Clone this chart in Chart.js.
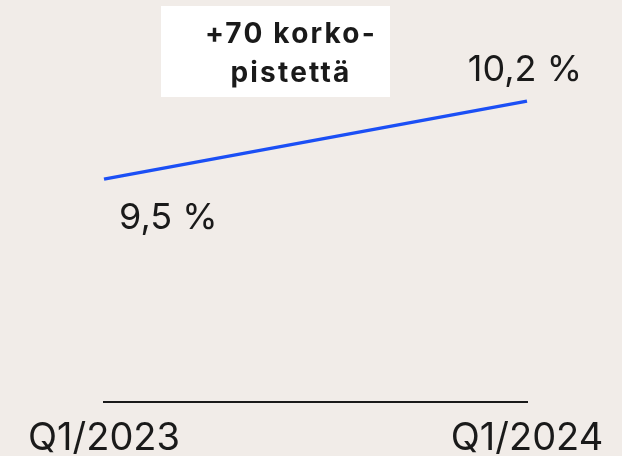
<!DOCTYPE html>
<html>
<head>
<meta charset="utf-8">
<script src="https://cdn.jsdelivr.net/npm/chart.js@4.4.1/dist/chart.umd.min.js"></script>
<style>
  html, body { margin: 0; padding: 0; background: #f1ece8; }
  #wrap { width: 622px; height: 456px; position: relative; }
</style>
</head>
<body>
<div id="wrap"><canvas id="chart"></canvas></div>
<script>
// data
const quarters = ['Q1/2023', 'Q1/2024'];
const rates = [9.5, 10.2];
const noteLines = ['+70 korko-', 'pistettä'];

const textColor = '#1a1a1a';
const lineColor = '#1b4ff5';

function fmt(v) {
    return v.toFixed(1).replace('.', ',') + ' %';
}

// draws value labels next to the line ends and the white note box
const labelsPlugin = {
    id: 'labels',
    afterDatasetsDraw(chart) {
        const ctx = chart.ctx;
        const pts = chart.getDatasetMeta(0).data;
        ctx.save();
        ctx.fillStyle = textColor;
        ctx.font = '36px Inter';

        // first value below the start
        ctx.textAlign = 'left';
        ctx.textBaseline = 'alphabetic';
        ctx.fillText(fmt(rates[0]), pts[0].x + 15, pts[0].y + 50);

        // last value above the end
        ctx.textAlign = 'right';
        ctx.fillText(fmt(rates[rates.length - 1]), pts[pts.length - 1].x + 55, pts[pts.length - 1].y - 20);

        // note box
        ctx.fillStyle = '#ffffff';
        ctx.fillRect(161, 6, 229, 91);
        ctx.fillStyle = textColor;
        ctx.font = 'bold 28px Inter';
        ctx.letterSpacing = '2.2px';
        ctx.textAlign = 'center';
        noteLines.forEach((t, i) => ctx.fillText(t, 291, 43 + i * 39));
        ctx.restore();
    }
};

const ctx = document.getElementById('chart');
new Chart(ctx, {
    type: 'line',
    data: {
        labels: quarters,
        datasets: [{
            data: rates,
            borderColor: lineColor,
            borderWidth: 3.5,
            pointRadius: 0,
            tension: 0
        }]
    },
    options: {
        responsive: true,
        maintainAspectRatio: false,
        animation: false,
        layout: { padding: { left: 104, right: 95, top: 12, bottom: 0 } },
        plugins: {
            legend: { display: false },
            tooltip: { enabled: false }
        },
        scales: {
            x: {
                offset: false,
                grid: { display: false, drawTicks: false },
                border: { display: true, color: textColor, width: 2 },
                ticks: {
                    color: textColor,
                    font: { family: 'Inter', size: 38, lineHeight: 1 },
                    padding: 17.5,
                    maxRotation: 0,
                    autoSkip: false
                },
                afterFit(scale) { scale.height = 54; }
            },
            y: {
                display: false,
                min: 7.5,
                max: 11
            }
        }
    },
    plugins: [labelsPlugin]
});
</script>
</body>
</html>
